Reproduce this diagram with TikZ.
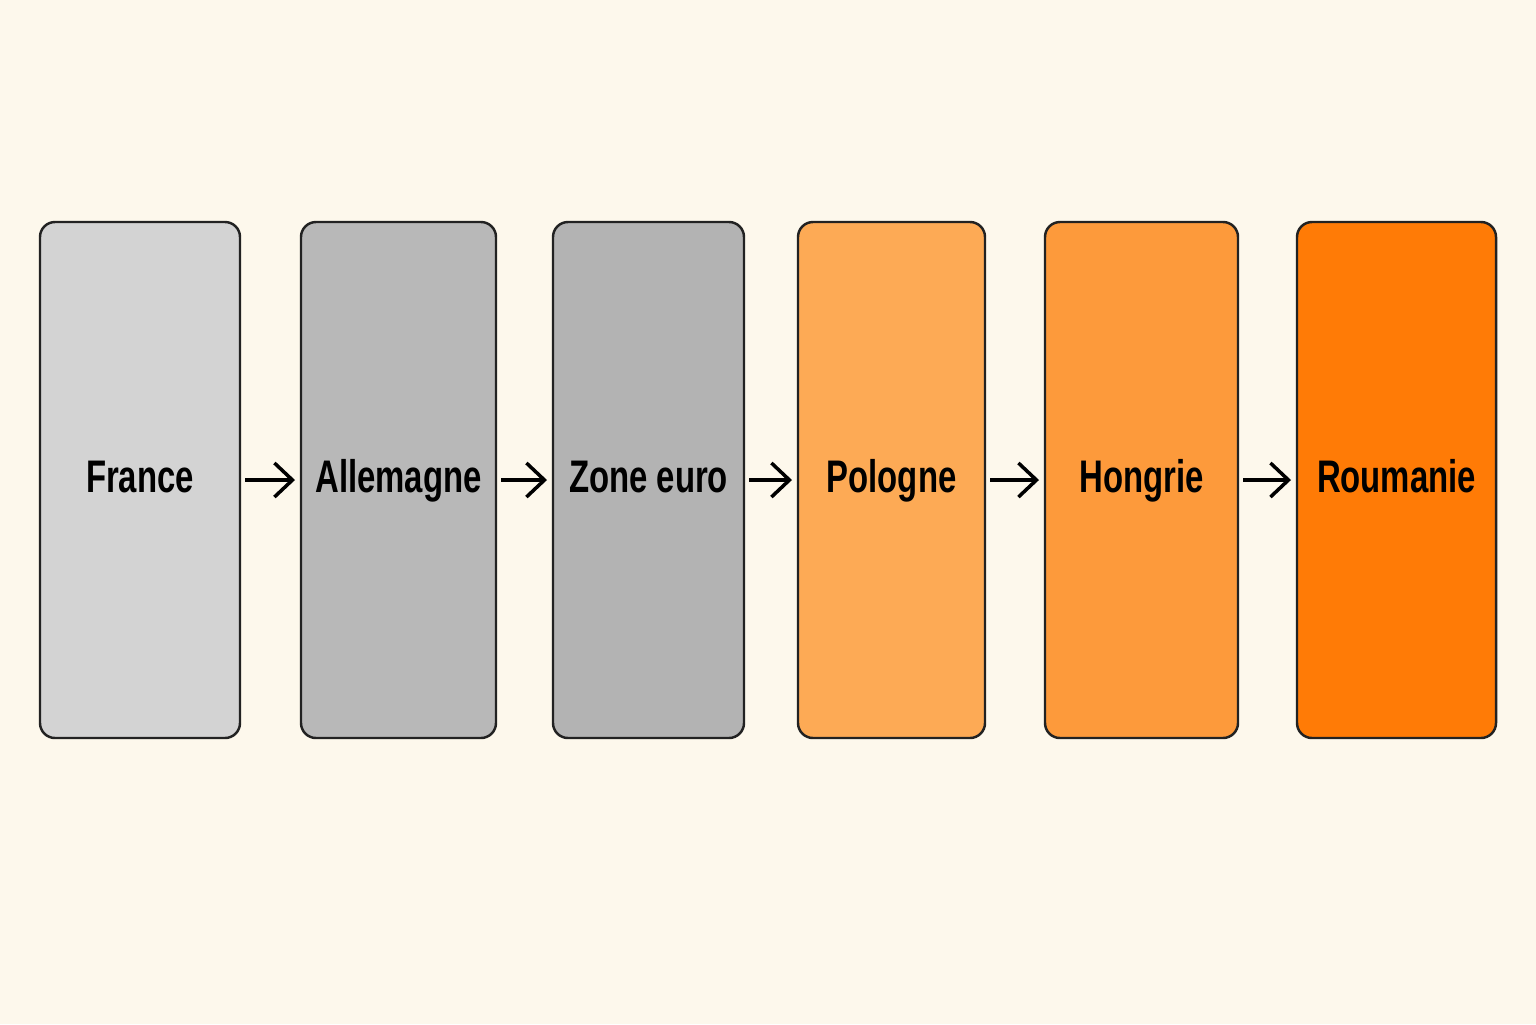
\documentclass[tikz,border=0pt]{standalone}
\usepackage{fontspec}
\setmainfont{Liberation Sans}[FakeStretch=0.72]
\usetikzlibrary{arrows.meta}
\usetikzlibrary{positioning}
\definecolor{fond}{HTML}{FDF8EC}
\definecolor{gris1}{HTML}{D3D3D3}
\definecolor{gris2}{HTML}{B8B8B8}
\definecolor{gris3}{HTML}{B3B3B3}
\definecolor{orange1}{HTML}{FDAA55}
\definecolor{orange2}{HTML}{FD9A3B}
\definecolor{orange3}{HTML}{FF7B06}
\definecolor{bord}{HTML}{222222}

\begin{document}
\begin{tikzpicture}[->,>={Straight Barb[length=1.8mm,width=3.4mm]},shorten >=0.06cm,shorten <=0.05cm,
			line width=1pt,node distance=0.58cm,font=\bfseries\fontsize{13}{15}\selectfont]
			\tikzstyle{pays}=[draw=bord,line width=0.7pt,rounded corners=0.15cm,inner sep=0pt,
				outer sep=0pt,minimum height=5.16cm,text=black,text height=0.72em,text depth=0pt]
			
			\fill[fond] (0,0) rectangle (15.36,-10.24);
			\useasboundingbox (0,0) rectangle (15.36,-10.24);
			
			\node[pays,fill=gris1,minimum width=2.00cm] (Fr) at (1.40,-4.80) {France};
			\node[pays,fill=gris2,minimum width=1.95cm] (All) [right=0.61cm of Fr] {Allemagne};
			\node[pays,fill=gris3,minimum width=1.91cm] (Ze)  [right=0.57cm of All] {Zone euro};
			\node[pays,fill=orange1,minimum width=1.87cm] (Pol) [right=0.54cm of Ze] {Pologne};
			\node[pays,fill=orange2,minimum width=1.93cm] (Hon) [right=0.60cm of Pol] {Hongrie};
			\node[pays,fill=orange3,minimum width=1.99cm] (Rou) [right=0.59cm of Hon] {Roumanie};
			
			\path[draw=black]
			(Fr) edge (All)
			(All) edge (Ze)
			(Ze) edge (Pol)
			(Pol) edge (Hon)
			(Hon) edge (Rou);
\end{tikzpicture}
\end{document}
